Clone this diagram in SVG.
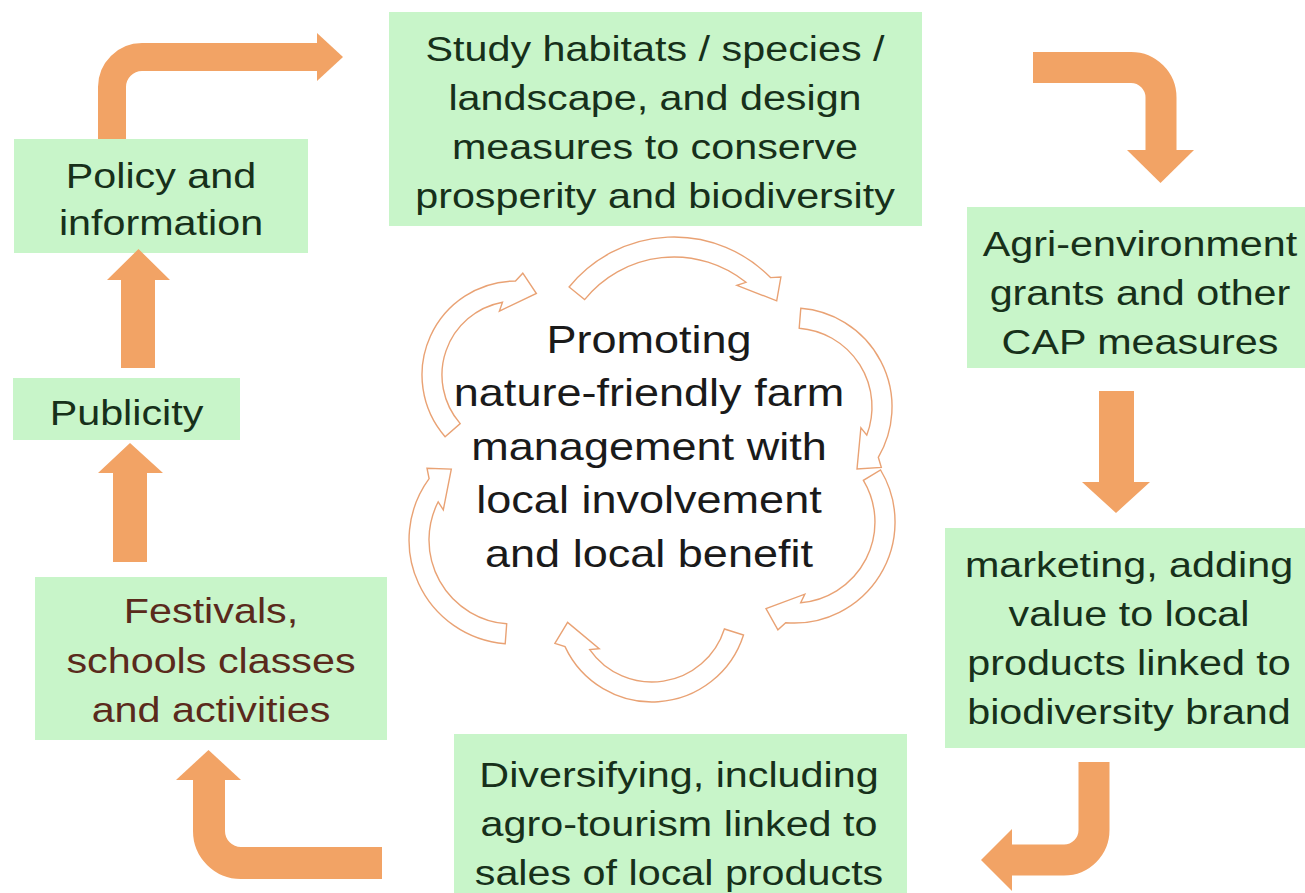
<svg xmlns="http://www.w3.org/2000/svg" width="1305" height="893" viewBox="0 0 1305 893">
<defs>
<style>
.box{fill:#c8f5c9}
.t{font-family:"Liberation Sans",Arial,Helvetica,sans-serif;font-size:35px;fill:#17301a;text-anchor:middle}
.brown{fill:#5a2a1c}
.ct{font-family:"Liberation Sans",Arial,Helvetica,sans-serif;font-size:38.5px;fill:#1a1a1a;text-anchor:middle}
.band{fill:none;stroke:#f2a365;stroke-linejoin:miter}
.head{fill:#f2a365}
.cyc{fill:#ffffff;stroke:#e9a274;stroke-width:1.4;stroke-linejoin:miter}
</style>
</defs>
<rect x="0" y="0" width="1305" height="893" fill="#ffffff"/>

<g id="node-policy">
<rect class="box" x="14" y="139" width="294" height="114"/>
<text class="t" transform="translate(161,0) scale(1.18,1)"><tspan x="0" y="188">Policy and</tspan><tspan x="0" y="235">information</tspan></text>
</g>

<g id="node-publicity">
<rect class="box" x="13" y="378" width="227" height="62"/>
<text class="t" transform="translate(126.5,0) scale(1.18,1)"><tspan x="0" y="425">Publicity</tspan></text>
</g>

<g id="node-festivals">
<rect class="box" x="35" y="577" width="352" height="163"/>
<text class="t brown" transform="translate(211,0) scale(1.18,1)"><tspan x="0" y="623">Festivals,</tspan><tspan x="0" y="673">schools classes</tspan><tspan x="0" y="722">and activities</tspan></text>
</g>

<g id="node-study">
<rect class="box" x="389" y="12" width="533" height="214"/>
<text class="t" transform="translate(655,0) scale(1.18,1)"><tspan x="0" y="61">Study habitats / species /</tspan><tspan x="0" y="110">landscape, and design</tspan><tspan x="0" y="159">measures to conserve</tspan><tspan x="0" y="208">prosperity and biodiversity</tspan></text>
</g>

<g id="node-agri">
<rect class="box" x="967" y="207" width="338" height="161"/>
<text class="t" transform="translate(1140,0) scale(1.18,1)"><tspan x="0" y="256">Agri-environment</tspan><tspan x="0" y="305">grants and other</tspan><tspan x="0" y="354">CAP measures</tspan></text>
</g>

<g id="node-marketing">
<rect class="box" x="945" y="528" width="360" height="220"/>
<text class="t" transform="translate(1129,0) scale(1.18,1)"><tspan x="0" y="577">marketing, adding</tspan><tspan x="0" y="626">value to local</tspan><tspan x="0" y="675">products linked to</tspan><tspan x="0" y="724">biodiversity brand</tspan></text>
</g>

<g id="node-diversifying">
<rect class="box" x="454" y="734" width="453" height="159"/>
<text class="t" transform="translate(679,0) scale(1.18,1)"><tspan x="0" y="787">Diversifying, including</tspan><tspan x="0" y="836">agro-tourism linked to</tspan><tspan x="0" y="885">sales of local products</tspan></text>
</g>

<g id="node-center">
<g id="cycle">
<path class="cyc" d="M445.1,436.7 A94,94 0 0 1 515.5,281 L522.8,273.2 L536.4,293.5 L499.4,311.1 L502.5,302.2 A74,74 0 0 0 460.2,423.6 Z"/>
<path class="cyc" d="M569.1,287 A135,135 0 0 1 770.5,277.6 L780.9,277 L776.7,300.8 L736.9,285.4 L746,282.3 A115,115 0 0 0 584.6,299.6 Z"/>
<path class="cyc" d="M800.8,308.3 A99,99 0 0 1 878.3,457.3 L881.3,467.4 L857,468.9 L860.9,427.8 L866.8,435.1 A79,79 0 0 0 799.2,328.2 Z"/>
<path class="cyc" d="M880.6,470 A101,101 0 0 1 785.7,622.7 L777.9,629.8 L766,608.6 L804.8,594.2 L800.7,602.7 A81,81 0 0 0 863.4,480.3 Z"/>
<path class="cyc" d="M743.5,635 A96,96 0 0 1 565,646.6 L554.9,643.3 L567.6,622.4 L599.2,648.8 L589.7,649.6 A76,76 0 0 0 724.4,629 Z"/>
<path class="cyc" d="M505.2,643.7 A104,104 0 0 1 429.1,478.6 L427,468.2 L451.3,469.1 L443.3,509.8 L438.2,501.8 A84,84 0 0 0 506.7,623.8 Z"/>
</g>
<text class="ct" transform="translate(649,0) scale(1.17,1)"><tspan x="0" y="353">Promoting</tspan><tspan x="0" y="406">nature-friendly farm</tspan><tspan x="0" y="460">management with</tspan><tspan x="0" y="513">local involvement</tspan><tspan x="0" y="567">and local benefit</tspan></text>
</g>

<g id="connectors">
<!-- policy -> study -->
<path class="band" stroke-width="28" d="M112,139 V87 A30,30 0 0 1 142,57 H318"/>
<polygon class="head" points="317,33 343,57 317,81"/>
<!-- study -> agri -->
<path class="band" stroke-width="31" d="M1033,67.5 H1131 A30,30 0 0 1 1161,97.5 V151"/>
<polygon class="head" points="1127,150 1194,150 1160.5,183"/>
<!-- agri -> marketing -->
<polygon class="head" points="1099,391 1134,391 1134,482 1150,482 1116,513 1082,482 1099,482"/>
<!-- marketing -> diversifying -->
<path class="band" stroke-width="31" d="M1094,762 V830 A30,30 0 0 1 1064,860 H1011"/>
<polygon class="head" points="1012,829 981,860 1012,891"/>
<!-- diversifying -> festivals -->
<path class="band" stroke-width="32" d="M382,863 H241 A32,32 0 0 1 209,831 V779"/>
<polygon class="head" points="176,780 241,780 208.5,750"/>
<!-- festivals -> publicity -->
<polygon class="head" points="113,562 147,562 147,473 163,473 130,443 98,473 113,473"/>
<!-- publicity -> policy -->
<polygon class="head" points="121,368 155,368 155,280 170,280 138.5,249 107,280 121,280"/>
</g>
</svg>
